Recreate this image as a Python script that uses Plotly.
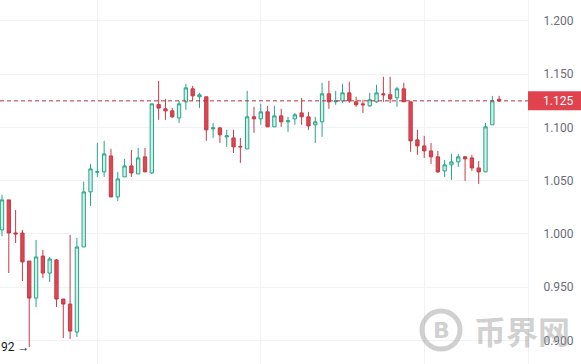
import plotly.graph_objects as go

# ---- data ----
opens = [1.0038, 1.032, 1.001, 1.0009, 0.9746, 0.9398, 0.9793, 0.9633, 0.9756, 0.9389,
         0.9342, 0.9079, 0.9878, 1.0395, 1.058, 1.0583, 1.0733, 1.0348, 1.0536, 1.0639,
         1.0564, 1.0724, 1.0573, 1.1215, 1.1175, 1.1156, 1.109, 1.1241, 1.1363, 1.1288,
         1.1288, 1.0987, 1.0996, 1.0912, 1.0902, 1.0822, 1.0799, 1.11, 1.1081, 1.1147,
         1.1006, 1.1109, 1.1053, 1.1081, 1.1137, 1.11, 1.1025, 1.1053, 1.1316, 1.1241,
         1.125, 1.1325, 1.1241, 1.1222, 1.1203, 1.1241, 1.1316, 1.1307, 1.1278, 1.1363,
         1.1241, 1.0884, 1.0827, 1.078, 1.0724, 1.0592, 1.0649, 1.0677, 1.0724, 1.0714,
         1.062, 1.0583, 1.1025, 1.1265]
highs = [1.0367, 1.032, 1.0226, 1.0038, 0.9746, 0.9944, 0.985, 0.9784, 0.9765, 0.9389,
         0.9991, 0.9962, 1.0492, 1.0658, 1.0855, 1.0874, 1.0799, 1.0583, 1.0705, 1.079,
         1.0808, 1.0808, 1.1222, 1.1438, 1.1269, 1.1184, 1.125, 1.141, 1.1391, 1.1325,
         1.1288, 1.1043, 1.1006, 1.0978, 1.0978, 1.0902, 1.1344, 1.1194, 1.1222, 1.1203,
         1.1203, 1.1175, 1.11, 1.1137, 1.1278, 1.1147, 1.11, 1.1419, 1.1438, 1.1344,
         1.141, 1.1429, 1.1288, 1.126, 1.1325, 1.14, 1.1476, 1.1476, 1.1382, 1.1419,
         1.1241, 1.0978, 1.0921, 1.0855, 1.078, 1.0696, 1.0752, 1.0752, 1.0733, 1.0743,
         1.0686, 1.1043, 1.1297, 1.1297]
lows = [0.998, 0.9633, 0.9915, 0.9558, 0.8938, 0.9314, 0.9586, 0.9549, 0.9314, 0.9022,
        0.9013, 0.9032, 0.9878, 1.0263, 1.0536, 1.0536, 1.0348, 1.031, 1.0536, 1.0536,
        1.0564, 1.0583, 1.0564, 1.1072, 1.1072, 1.109, 1.1043, 1.1166, 1.125, 1.1184,
        1.0874, 1.0902, 1.0855, 1.0818, 1.0761, 1.0667, 1.0799, 1.0949, 1.1025, 1.1006,
        1.1006, 1.1006, 1.0959, 1.1025, 1.1025, 1.0978, 1.0855, 1.0912, 1.1175, 1.1213,
        1.1231, 1.1231, 1.1194, 1.1137, 1.1194, 1.1231, 1.1241, 1.1231, 1.1194, 1.1241,
        1.0771, 1.0743, 1.0714, 1.0658, 1.0573, 1.0536, 1.0508, 1.063, 1.0498, 1.0592,
        1.047, 1.0583, 1.1025, 1.124]
closes = [1.032, 1.0009, 1.000, 0.9737, 0.9398, 0.9784, 0.9633, 0.9765, 0.9389, 0.9342,
          0.9088, 0.9878, 1.0395, 1.0611, 1.0585, 1.0752, 1.0348, 1.0517, 1.0639, 1.0573,
          1.0714, 1.0583, 1.1222, 1.1182, 1.1156, 1.11, 1.1222, 1.1372, 1.1297, 1.1307,
          1.0978, 1.0996, 1.0931, 1.0921, 1.0818, 1.0818, 1.11, 1.1081, 1.1147, 1.1006,
          1.1109, 1.1053, 1.1062, 1.1119, 1.11, 1.1015, 1.1053, 1.1316, 1.1241, 1.125,
          1.1325, 1.125, 1.1213, 1.1213, 1.126, 1.1325, 1.1307, 1.1269, 1.1363, 1.1241,
          1.0874, 1.0827, 1.078, 1.0724, 1.0583, 1.0649, 1.0677, 1.0724, 1.0705, 1.062,
          1.0583, 1.1006, 1.125, 1.125]
bar_index = list(range(len(opens)))

last_price = 1.125
last_price_label = "1.125"
low_marker_label = "92 →"
low_marker_value = 0.8938
y_tick_values = [0.900, 0.950, 1.000, 1.050, 1.100, 1.150, 1.200]
y_tick_labels = ["0.900", "0.950", "1.000", "1.050", "1.100", "1.150", "1.200"]
time_grid_bars = [14, 38, 62]
watermark_text = "币界网"

# ---- figure ----
W, H = 581, 364
R_MARGIN = 53
PLOT_W = W - R_MARGIN
GRID = "#f0f2f5"
UP_LINE = "#22a68a"
UP_FILL = "#d2efe8"
DN_LINE = "#c93a45"
DN_FILL = "#dd4653"

fig = go.Figure(go.Candlestick(
    x=bar_index, open=opens, high=highs, low=lows, close=closes,
    increasing=dict(line=dict(color=UP_LINE, width=1), fillcolor=UP_FILL),
    decreasing=dict(line=dict(color=DN_LINE, width=1), fillcolor=DN_FILL),
    whiskerwidth=0, hoverinfo="skip", showlegend=False,
))

px_per_bar = 6.81
x_left = -2 / px_per_bar
x_right = (PLOT_W - 2) / px_per_bar
y_min, y_max = 0.8779, 1.2197
px_per_unit = H / (y_max - y_min)

fig.update_layout(
    width=W, height=H,
    margin=dict(l=0, r=R_MARGIN, t=0, b=0),
    paper_bgcolor="white", plot_bgcolor="white",
    showlegend=False,
    font=dict(family="Roboto, Arial, sans-serif", size=12, color="#6a6d78"),
    xaxis=dict(range=[x_left, x_right], rangeslider=dict(visible=False),
               showticklabels=False, tickvals=time_grid_bars, showgrid=True,
               gridcolor=GRID, gridwidth=1, zeroline=False, showline=False, ticks=""),
    yaxis=dict(range=[y_min, y_max], side="right", tickvals=y_tick_values,
               ticktext=y_tick_labels, showgrid=True, gridcolor=GRID, gridwidth=1,
               zeroline=False, showline=True, linecolor=GRID, linewidth=1,
               ticks="", ticklabelstandoff=12,
               tickfont=dict(size=12, color="#6a6d78")),
)

# dashed last-price line
fig.add_shape(type="line", xref="paper", yref="y", x0=0, x1=1,
              y0=last_price, y1=last_price,
              line=dict(color="#b8323c", width=1, dash="4px,3px"), layer="above")
# last-price label box
half = 9.5 / px_per_unit
fig.add_shape(type="rect", xref="paper", yref="y", x0=1.0, x1=W / PLOT_W,
              y0=last_price - half, y1=last_price + half,
              fillcolor="#e0434e", line=dict(width=0), layer="above")
fig.add_annotation(xref="paper", yref="y", x=558 / PLOT_W, y=last_price,
                   text=last_price_label, showarrow=False, xanchor="center",
                   yanchor="middle", font=dict(color="white", size=12,
                                               family="Roboto, Arial, sans-serif"))

# low marker text
fig.add_annotation(xref="paper", yref="y", x=-1 / PLOT_W, y=low_marker_value,
                   text=low_marker_label, showarrow=False, xanchor="left",
                   yanchor="middle", font=dict(color="#131722", size=12,
                                               family="Roboto, Arial, sans-serif"))

# watermark
wm_col = "rgba(150,150,150,0.45)"
cx, cy, rr = 441, 330, 19
fig.add_shape(type="circle", xref="paper", yref="paper",
              x0=(cx - rr) / PLOT_W, x1=(cx + rr) / PLOT_W,
              y0=1 - (cy + rr) / H, y1=1 - (cy - rr) / H,
              line=dict(color=wm_col, width=5), layer="above")
fig.add_annotation(xref="paper", yref="paper", x=cx / PLOT_W, y=1 - cy / H,
                   text="<b>B</b>", showarrow=False, xanchor="center", yanchor="middle",
                   font=dict(color=wm_col, size=22, family="DejaVu Sans, sans-serif"))
fig.add_annotation(xref="paper", yref="paper", x=522 / PLOT_W, y=1 - 330 / H,
                   text="<b>" + watermark_text + "</b>", showarrow=False,
                   xanchor="center", yanchor="middle",
                   font=dict(color=wm_col, size=32, family="Noto Sans CJK SC"))

fig.write_html("out.html", config={"displayModeBar": False},
               post_script="document.body.style.margin='0';document.body.style.overflow='hidden';")
